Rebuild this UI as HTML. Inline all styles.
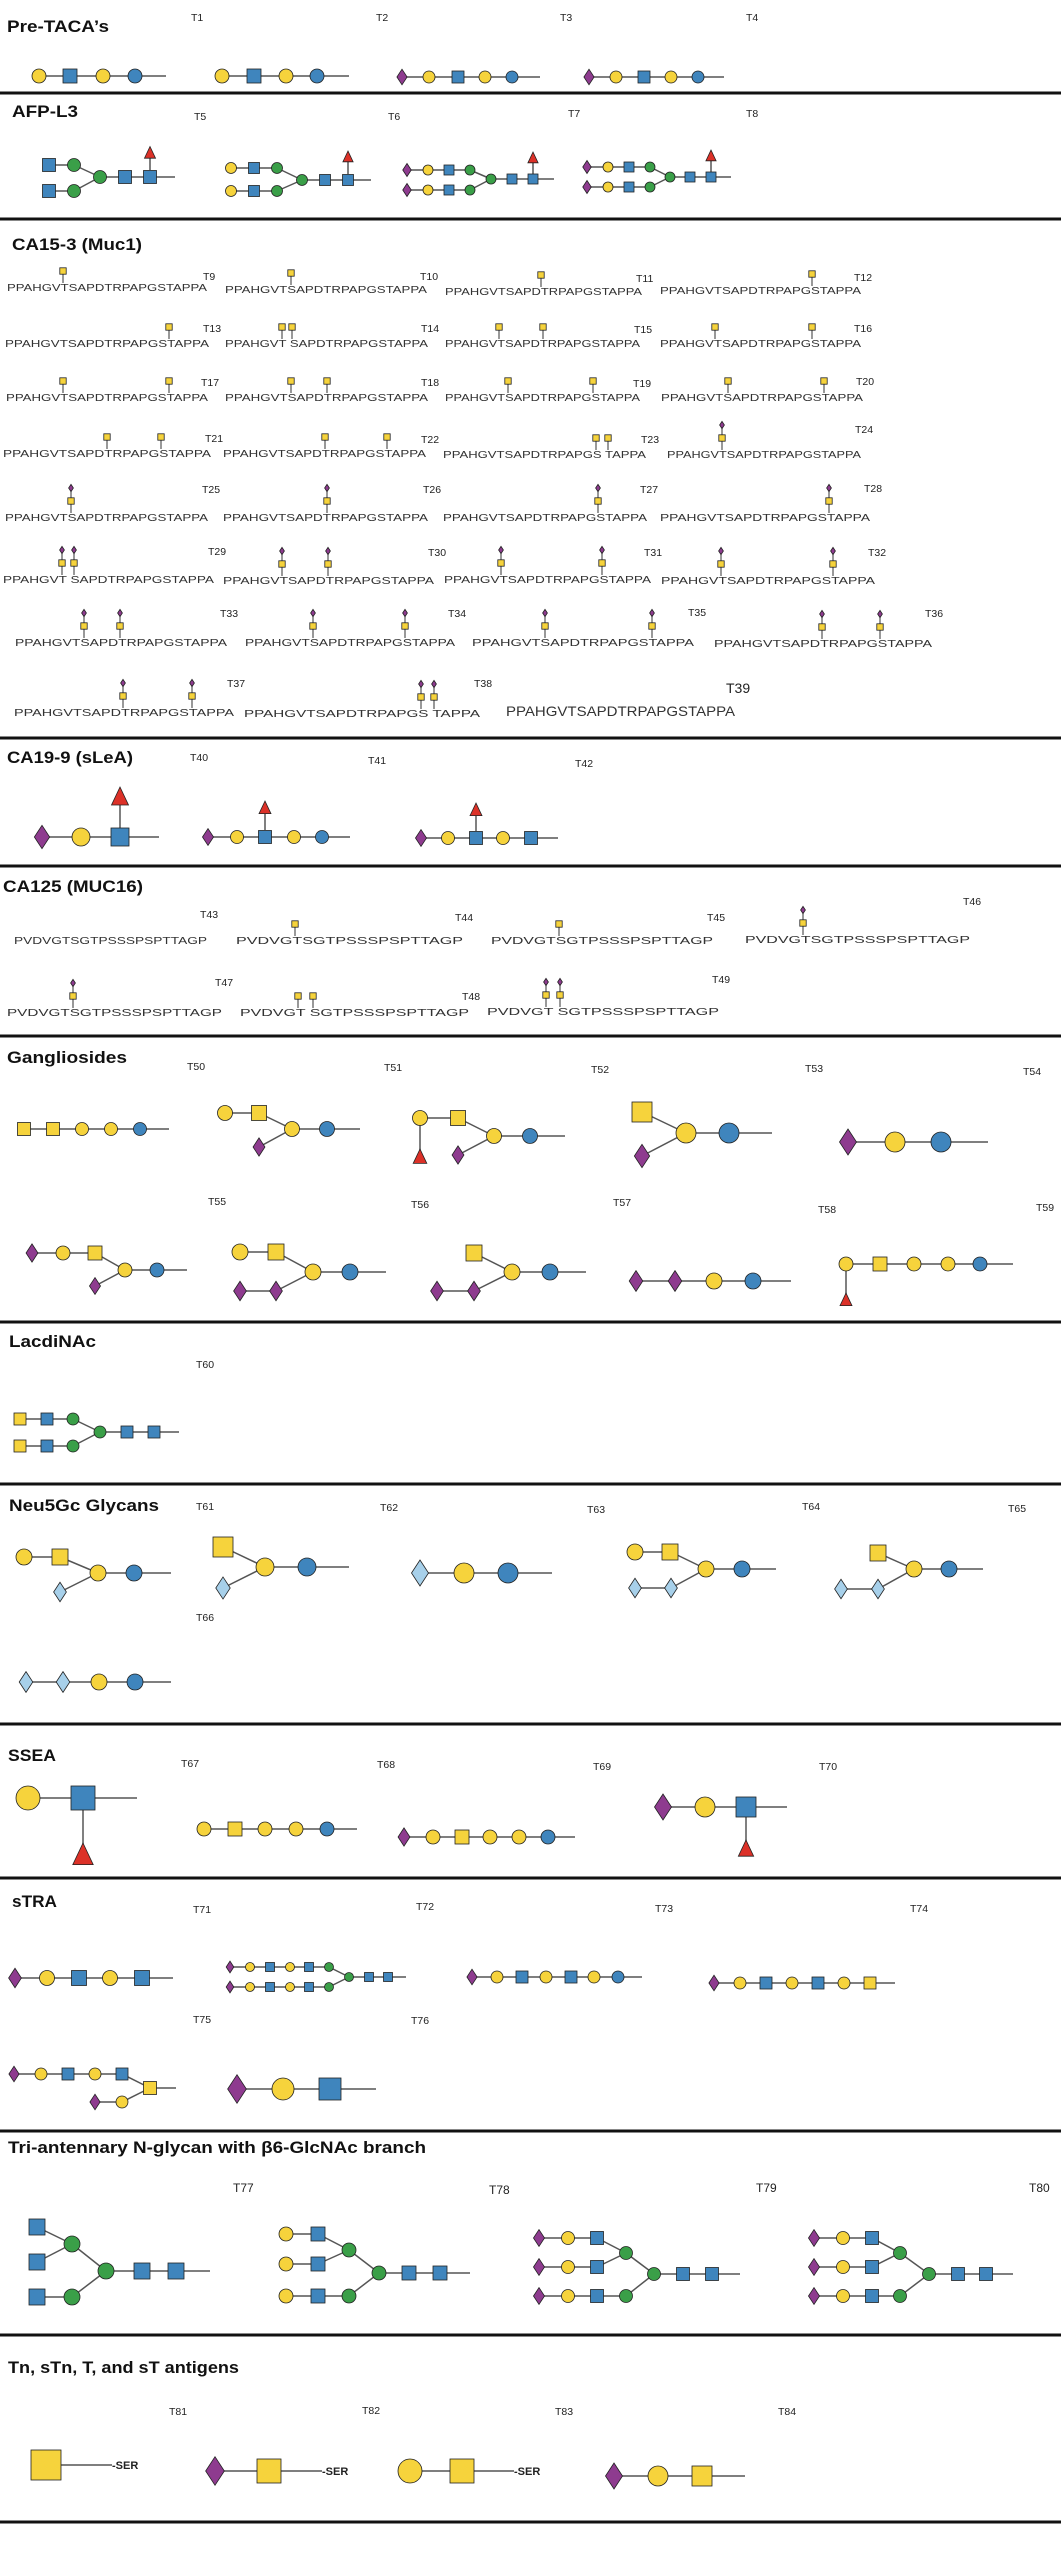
<!DOCTYPE html>
<html><head><meta charset="utf-8"><style>
html,body{margin:0;padding:0;background:#fff}
svg{display:block}
.h{font-family:"Liberation Sans",sans-serif;font-weight:bold;font-size:17px;fill:#111}
.t{font-family:"Liberation Sans",sans-serif;font-size:10.5px;fill:#222}
.p{font-family:"Liberation Sans",sans-serif;font-size:10.5px;fill:#333}
.s{font-family:"Liberation Sans",sans-serif;font-weight:bold;font-size:11px;fill:#222}
</style></head><body>
<svg id="sv" width="1061" height="2560" viewBox="0 0 1061 2560" xmlns="http://www.w3.org/2000/svg">
<rect width="1061" height="2560" fill="#fff"/>
<g stroke="#111" stroke-width="3">
<line x1="0" y1="93" x2="1061" y2="93"/><line x1="0" y1="219" x2="1061" y2="219"/>
<line x1="0" y1="738" x2="1061" y2="738"/><line x1="0" y1="866" x2="1061" y2="866"/>
<line x1="0" y1="1036" x2="1061" y2="1036"/><line x1="0" y1="1322" x2="1061" y2="1322"/>
<line x1="0" y1="1484" x2="1061" y2="1484"/><line x1="0" y1="1724" x2="1061" y2="1724"/>
<line x1="0" y1="1878" x2="1061" y2="1878"/><line x1="0" y1="2131" x2="1061" y2="2131"/>
<line x1="0" y1="2335" x2="1061" y2="2335"/><line x1="0" y1="2522" x2="1061" y2="2522"/>
</g>
<g id="lines"></g><g id="shapes"></g>
<!-- headings -->
<text class="h" x="7" y="32" textLength="102" lengthAdjust="spacingAndGlyphs">Pre-TACA’s</text>
<text class="h" x="12" y="117" textLength="66" lengthAdjust="spacingAndGlyphs">AFP-L3</text>
<text class="h" x="12" y="250" textLength="130" lengthAdjust="spacingAndGlyphs">CA15-3 (Muc1)</text>
<text class="h" x="7" y="763" textLength="126" lengthAdjust="spacingAndGlyphs">CA19-9 (sLeA)</text>
<text class="h" x="3" y="892" textLength="140" lengthAdjust="spacingAndGlyphs">CA125 (MUC16)</text>
<text class="h" x="7" y="1063" textLength="120" lengthAdjust="spacingAndGlyphs">Gangliosides</text>
<text class="h" x="9" y="1347" textLength="87" lengthAdjust="spacingAndGlyphs">LacdiNAc</text>
<text class="h" x="9" y="1511" textLength="150" lengthAdjust="spacingAndGlyphs">Neu5Gc Glycans</text>
<text class="h" x="8" y="1761" textLength="48" lengthAdjust="spacingAndGlyphs">SSEA</text>
<text class="h" x="12" y="1907" textLength="45" lengthAdjust="spacingAndGlyphs">sTRA</text>
<text class="h" x="8" y="2153" textLength="418" lengthAdjust="spacingAndGlyphs">Tri-antennary N-glycan with β6-GlcNAc branch</text>
<text class="h" x="8" y="2373" textLength="231" lengthAdjust="spacingAndGlyphs">Tn, sTn, T, and sT antigens</text>
<!-- T labels -->
<g class="t">
<text x="191" y="21">T1</text><text x="376" y="21">T2</text><text x="560" y="21">T3</text><text x="746" y="21">T4</text>
<text x="194" y="120">T5</text><text x="388" y="120">T6</text><text x="568" y="117">T7</text><text x="746" y="117">T8</text>
<text x="203" y="280">T9</text><text x="420" y="280">T10</text><text x="636" y="282">T11</text><text x="854" y="281">T12</text>
<text x="203" y="332">T13</text><text x="421" y="332">T14</text><text x="634" y="333">T15</text><text x="854" y="332">T16</text>
<text x="201" y="386">T17</text><text x="421" y="386">T18</text><text x="633" y="387">T19</text><text x="856" y="385">T20</text>
<text x="205" y="442">T21</text><text x="421" y="443">T22</text><text x="641" y="443">T23</text><text x="855" y="433">T24</text>
<text x="202" y="493">T25</text><text x="423" y="493">T26</text><text x="640" y="493">T27</text><text x="864" y="492">T28</text>
<text x="208" y="555">T29</text><text x="428" y="556">T30</text><text x="644" y="556">T31</text><text x="868" y="556">T32</text>
<text x="220" y="617">T33</text><text x="448" y="617">T34</text><text x="688" y="616">T35</text><text x="925" y="617">T36</text>
<text x="227" y="687">T37</text><text x="474" y="687">T38</text><text x="726" y="693" style="font-size:14px">T39</text>
<text x="190" y="761">T40</text><text x="368" y="764">T41</text><text x="575" y="767">T42</text>
<text x="200" y="918">T43</text><text x="455" y="921">T44</text><text x="707" y="921">T45</text><text x="963" y="905">T46</text>
<text x="215" y="986">T47</text><text x="462" y="1000">T48</text><text x="712" y="983">T49</text>
<text x="187" y="1070">T50</text><text x="384" y="1071">T51</text><text x="591" y="1073">T52</text><text x="805" y="1072">T53</text><text x="1023" y="1075">T54</text>
<text x="208" y="1205">T55</text><text x="411" y="1208">T56</text><text x="613" y="1206">T57</text><text x="818" y="1213">T58</text><text x="1036" y="1211">T59</text>
<text x="196" y="1368">T60</text>
<text x="196" y="1510">T61</text><text x="380" y="1511">T62</text><text x="587" y="1513">T63</text><text x="802" y="1510">T64</text><text x="1008" y="1512">T65</text>
<text x="196" y="1621">T66</text>
<text x="181" y="1767">T67</text><text x="377" y="1768">T68</text><text x="593" y="1770">T69</text><text x="819" y="1770">T70</text>
<text x="193" y="1913">T71</text><text x="416" y="1910">T72</text><text x="655" y="1912">T73</text><text x="910" y="1912">T74</text>
<text x="193" y="2023">T75</text><text x="411" y="2024">T76</text>
<text x="233" y="2192" style="font-size:12px">T77</text><text x="489" y="2194" style="font-size:12px">T78</text><text x="756" y="2192" style="font-size:12px">T79</text><text x="1029" y="2192" style="font-size:12px">T80</text>
<text x="169" y="2415">T81</text><text x="362" y="2414">T82</text><text x="555" y="2415">T83</text><text x="778" y="2415">T84</text>
</g>
<!-- peptides -->
<g class="p">
<text x="7" y="291" textLength="200" lengthAdjust="spacingAndGlyphs">PPAHGVTSAPDTRPAPGSTAPPA</text>
<text x="225" y="293" textLength="202" lengthAdjust="spacingAndGlyphs">PPAHGVTSAPDTRPAPGSTAPPA</text>
<text x="445" y="295" textLength="197" lengthAdjust="spacingAndGlyphs">PPAHGVTSAPDTRPAPGSTAPPA</text>
<text x="660" y="294" textLength="201" lengthAdjust="spacingAndGlyphs">PPAHGVTSAPDTRPAPGSTAPPA</text>
<text x="5" y="347" textLength="204" lengthAdjust="spacingAndGlyphs">PPAHGVTSAPDTRPAPGSTAPPA</text>
<text x="225" y="347" textLength="203" lengthAdjust="spacingAndGlyphs">PPAHGVT SAPDTRPAPGSTAPPA</text>
<text x="445" y="347" textLength="195" lengthAdjust="spacingAndGlyphs">PPAHGVTSAPDTRPAPGSTAPPA</text>
<text x="660" y="347" textLength="201" lengthAdjust="spacingAndGlyphs">PPAHGVTSAPDTRPAPGSTAPPA</text>
<text x="6" y="401" textLength="202" lengthAdjust="spacingAndGlyphs">PPAHGVTSAPDTRPAPGSTAPPA</text>
<text x="225" y="401" textLength="203" lengthAdjust="spacingAndGlyphs">PPAHGVTSAPDTRPAPGSTAPPA</text>
<text x="445" y="401" textLength="195" lengthAdjust="spacingAndGlyphs">PPAHGVTSAPDTRPAPGSTAPPA</text>
<text x="661" y="401" textLength="202" lengthAdjust="spacingAndGlyphs">PPAHGVTSAPDTRPAPGSTAPPA</text>
<text x="3" y="457" textLength="208" lengthAdjust="spacingAndGlyphs">PPAHGVTSAPDTRPAPGSTAPPA</text>
<text x="223" y="457" textLength="203" lengthAdjust="spacingAndGlyphs">PPAHGVTSAPDTRPAPGSTAPPA</text>
<text x="443" y="458" textLength="203" lengthAdjust="spacingAndGlyphs">PPAHGVTSAPDTRPAPGS TAPPA</text>
<text x="667" y="458" textLength="194" lengthAdjust="spacingAndGlyphs">PPAHGVTSAPDTRPAPGSTAPPA</text>
<text x="5" y="521" textLength="203" lengthAdjust="spacingAndGlyphs">PPAHGVTSAPDTRPAPGSTAPPA</text>
<text x="223" y="521" textLength="205" lengthAdjust="spacingAndGlyphs">PPAHGVTSAPDTRPAPGSTAPPA</text>
<text x="443" y="521" textLength="204" lengthAdjust="spacingAndGlyphs">PPAHGVTSAPDTRPAPGSTAPPA</text>
<text x="660" y="521" textLength="210" lengthAdjust="spacingAndGlyphs">PPAHGVTSAPDTRPAPGSTAPPA</text>
<text x="3" y="583" textLength="211" lengthAdjust="spacingAndGlyphs">PPAHGVT SAPDTRPAPGSTAPPA</text>
<text x="223" y="584" textLength="211" lengthAdjust="spacingAndGlyphs">PPAHGVTSAPDTRPAPGSTAPPA</text>
<text x="444" y="583" textLength="207" lengthAdjust="spacingAndGlyphs">PPAHGVTSAPDTRPAPGSTAPPA</text>
<text x="661" y="584" textLength="214" lengthAdjust="spacingAndGlyphs">PPAHGVTSAPDTRPAPGSTAPPA</text>
<text x="15" y="646" textLength="212" lengthAdjust="spacingAndGlyphs">PPAHGVTSAPDTRPAPGSTAPPA</text>
<text x="245" y="646" textLength="210" lengthAdjust="spacingAndGlyphs">PPAHGVTSAPDTRPAPGSTAPPA</text>
<text x="472" y="646" textLength="222" lengthAdjust="spacingAndGlyphs">PPAHGVTSAPDTRPAPGSTAPPA</text>
<text x="714" y="647" textLength="218" lengthAdjust="spacingAndGlyphs">PPAHGVTSAPDTRPAPGSTAPPA</text>
<text x="14" y="716" textLength="220" lengthAdjust="spacingAndGlyphs">PPAHGVTSAPDTRPAPGSTAPPA</text>
<text x="244" y="717" textLength="236" lengthAdjust="spacingAndGlyphs">PPAHGVTSAPDTRPAPGS TAPPA</text>
<text x="506" y="716" textLength="229" lengthAdjust="spacingAndGlyphs" style="font-size:14px">PPAHGVTSAPDTRPAPGSTAPPA</text>
<text x="14" y="944" textLength="193" lengthAdjust="spacingAndGlyphs">PVDVGTSGTPSSSPSPTTAGP</text>
<text x="236" y="944" textLength="227" lengthAdjust="spacingAndGlyphs">PVDVGTSGTPSSSPSPTTAGP</text>
<text x="491" y="944" textLength="222" lengthAdjust="spacingAndGlyphs">PVDVGTSGTPSSSPSPTTAGP</text>
<text x="745" y="943" textLength="225" lengthAdjust="spacingAndGlyphs">PVDVGTSGTPSSSPSPTTAGP</text>
<text x="7" y="1016" textLength="215" lengthAdjust="spacingAndGlyphs">PVDVGTSGTPSSSPSPTTAGP</text>
<text x="240" y="1016" textLength="229" lengthAdjust="spacingAndGlyphs">PVDVGT SGTPSSSPSPTTAGP</text>
<text x="487" y="1015" textLength="232" lengthAdjust="spacingAndGlyphs">PVDVGT SGTPSSSPSPTTAGP</text>
</g>
<g class="s">
<text x="112" y="2469">-SER</text><text x="322" y="2475">-SER</text><text x="514" y="2475">-SER</text>
</g>
</svg>
<script>
var C={gal:'#f6d33c',glc:'#3f85bd',gn:'#3f85bd',an:'#f6d33c',man:'#3a9f48',sa:'#8e3b8f',gc:'#a7d0ea',fuc:'#dc3128'};
var L='',S='';
function ln(a,b,c,d,w){L+='<line x1="'+a+'" y1="'+b+'" x2="'+c+'" y2="'+d+'" stroke="#555" stroke-width="'+(w||1.5)+'"/>';}
function nd(t,x,y,s){var st=' stroke="#222" stroke-width="0.8"';
 if(t=='gal'||t=='glc'||t=='man')S+='<circle cx="'+x+'" cy="'+y+'" r="'+s+'" fill="'+C[t]+'"'+st+'/>';
 else if(t=='gn'||t=='an')S+='<rect x="'+(x-s)+'" y="'+(y-s)+'" width="'+(2*s)+'" height="'+(2*s)+'" fill="'+C[t]+'"'+st+'/>';
 else if(t=='sa'||t=='gc')S+='<polygon points="'+x+','+(y-s*1.3)+' '+(x+s*0.85)+','+y+' '+x+','+(y+s*1.3)+' '+(x-s*0.85)+','+y+'" fill="'+C[t]+'"'+st+'/>';
 else S+='<polygon points="'+x+','+(y-s)+' '+(x+s*0.85)+','+(y+s*0.8)+' '+(x-s*0.85)+','+(y+s*0.8)+'" fill="'+C.fuc+'"'+st+'/>';}
function ch(y,xs,ts,s,tail){ln(xs[0],y,tail,y);xs.forEach(function(x,i){nd(ts[i],x,y,s);});}
function fu(x,y1,y2,s){ln(x,y1,x,y2);nd('fuc',x,y2,s);}
function bi(cy,uy,ly,bx,bt,cx,ct,tail,s){var m=bx[bx.length-1];ln(m,uy,cx[0],cy);ln(m,ly,cx[0],cy);ch(uy,bx,bt,s,m);ch(ly,bx,bt,s,m);ch(cy,cx,ct,s,tail);}
function tri(cy,mx,uy,ly,b1,b2,bx,bt,cx,tail,s){ln(mx,uy,cx[0],cy);ln(mx,ly,cx[0],cy);var e=bx[bx.length-1];
 ln(e,b1,mx,uy);ln(e,b2,mx,uy);ch(b1,bx,bt,s,e);ch(b2,bx,bt,s,e);nd('man',mx,uy,s);
 ch(ly,bx.concat([mx]),bt.concat(['man']),s,mx);ch(cy,cx,['man','gn','gn'],s,tail);}
function tn(x,b){ln(x,b-8,x,b-20,1.2);nd('an',x,b-20,3.2);}
function sl(x,b){ln(x,b-8,x,b-33,1.2);nd('an',x,b-20,3.2);nd('sa',x,b-33,2.8);}
// Pre-TACA
ch(76,[39,70,103,135],['gal','gn','gal','glc'],7,166);
ch(76,[222,254,286,317],['gal','gn','gal','glc'],7,349);
ch(77,[402,429,458,485,512],['sa','gal','gn','gal','glc'],6,540);
ch(77,[589,616,644,671,698],['sa','gal','gn','gal','glc'],6,724);
// AFP
bi(177,165,191,[49,74],['gn','man'],[100,125,150],['man','gn','gn'],175,6.5);fu(150,170,153,6.5);
bi(180,168,191,[231,254,277],['gal','gn','man'],[302,325,348],['man','gn','gn'],371,5.5);fu(348,174,157,6);
bi(179,170,190,[407,428,449,470],['sa','gal','gn','man'],[491,512,533],['man','gn','gn'],554,5);fu(533,174,158,6);
bi(177,167,187,[587,608,629,650],['sa','gal','gn','man'],[670,690,711],['man','gn','gn'],731,5);fu(711,172,156,6);
// Muc1 stubs
[[63,291],[291,293],[541,295],[812,294],[169,347],[282,347],[292,347],[499,347],[543,347],[715,347],[812,347],
 [63,401],[169,401],[291,401],[327,401],[508,401],[593,401],[728,401],[824,401],
 [107,457],[161,457],[325,457],[387,457],[596,458],[608,458],
 [295,944],[559,944],[298,1016],[313,1016]].forEach(function(p){tn(p[0],p[1]);});
[[722,458],[71,521],[327,521],[598,521],[829,521],[62,583],[74,583],[282,584],[328,584],[501,583],[602,583],[721,584],[833,584],
 [84,646],[120,646],[313,646],[405,646],[545,646],[652,646],[822,647],[880,647],[123,716],[192,716],[421,717],[434,717],
 [803,943],[73,1016],[546,1015],[560,1015]].forEach(function(p){sl(p[0],p[1]);});
// CA19-9
ch(837,[42,81,120],['sa','gal','gn'],9,159);fu(120,828,797,10);
ch(837,[208,237,265,294,322],['sa','gal','gn','gal','glc'],6.5,350);fu(265,830,808,7);
ch(838,[421,448,476,503,531],['sa','gal','gn','gal','gn'],6.5,558);fu(476,831,810,7);
// Gangliosides
ch(1129,[24,53,82,111,140],['an','an','gal','gal','glc'],6.5,169);
ln(292,1129,259,1113);ln(292,1129,259,1147);ch(1113,[225,259],['gal','an'],7.5,259);ch(1129,[292,327],['gal','glc'],7.5,360);nd('sa',259,1147,7);
ln(494,1136,458,1118);ln(494,1136,458,1155);ch(1118,[420,458],['gal','an'],7.5,458);ln(420,1118,420,1157);nd('fuc',420,1157,8);ch(1136,[494,530],['gal','glc'],7.5,565);nd('sa',458,1155,7);
ln(686,1133,642,1112);ln(686,1133,642,1156);nd('an',642,1112,10);nd('sa',642,1156,9);ch(1133,[686,729],['gal','glc'],10,772);
ch(1142,[848,895,941],['sa','gal','glc'],10,988);
ln(125,1270,95,1253);ln(125,1270,95,1286);ch(1253,[32,63,95],['sa','gal','an'],7,95);ch(1270,[125,157],['gal','glc'],7,187);nd('sa',95,1286,6.5);
ln(313,1272,276,1252);ln(313,1272,276,1291);ch(1252,[240,276],['gal','an'],8,276);ch(1291,[240,276],['sa','sa'],7.5,276);ch(1272,[313,350],['gal','glc'],8,386);
ln(512,1272,474,1253);ln(512,1272,474,1291);nd('an',474,1253,8);ch(1291,[437,474],['sa','sa'],7.5,474);ch(1272,[512,550],['gal','glc'],8,586);
ch(1281,[636,675,714,753],['sa','sa','gal','glc'],8,791);
ln(846,1264,846,1300);ch(1264,[846,880,914,948,980],['gal','an','gal','gal','glc'],7,1013);nd('fuc',846,1300,7);
// LacdiNAc
bi(1432,1419,1446,[20,47,73],['an','gn','man'],[100,127,154],['man','gn','gn'],179,6);
// Neu5Gc
ln(98,1573,60,1557);ln(98,1573,60,1592);ch(1557,[24,60],['gal','an'],8,60);nd('gc',60,1592,7.5);ch(1573,[98,134],['gal','glc'],8,171);
ln(265,1567,223,1547);ln(265,1567,223,1588);nd('an',223,1547,10);nd('gc',223,1588,8.5);ch(1567,[265,307],['gal','glc'],9,349);
ch(1573,[420,464,508],['gc','gal','glc'],10,552);
ln(706,1569,671,1552);ln(706,1569,671,1588);ch(1552,[635,670],['gal','an'],8,670);ch(1588,[635,671],['gc','gc'],7.5,671);ch(1569,[706,742],['gal','glc'],8,776);
ln(914,1569,878,1553);ln(914,1569,878,1589);nd('an',878,1553,8);ch(1589,[841,878],['gc','gc'],7.5,878);ch(1569,[914,949],['gal','glc'],8,983);
ch(1682,[26,63,99,135],['gc','gc','gal','glc'],8,171);
// SSEA
ln(83,1798,83,1850);ch(1798,[28,83],['gal','gn'],12,137);nd('fuc',83,1855,12);
ch(1829,[204,235,265,296,327],['gal','an','gal','gal','glc'],7,357);
ch(1837,[404,433,462,490,519,548],['sa','gal','an','gal','gal','glc'],7,575);
ln(746,1807,746,1845);ch(1807,[663,705,746],['sa','gal','gn'],10,787);nd('fuc',746,1849,9);
// sTRA
ch(1978,[15,47,79,110,142],['sa','gal','gn','gal','gn'],7.5,173);
bi(1977,1967,1987,[230,250,270,290,309,329],['sa','gal','gn','gal','gn','man'],[349,369,388],['man','gn','gn'],406,4.5);
ch(1977,[472,497,522,546,571,594,618],['sa','gal','gn','gal','gn','gal','glc'],6,642);
ch(1983,[714,740,766,792,818,844,870],['sa','gal','gn','gal','gn','gal','an'],6,895);
ln(122,2074,150,2088);ln(122,2102,150,2088);ch(2074,[14,41,68,95,122],['sa','gal','gn','gal','gn'],6,122);ch(2088,[150],['an'],6.5,176);ch(2102,[95,122],['sa','gal'],6,122);
ch(2089,[237,283,330],['sa','gal','gn'],11,376);
// Tri-antennary
tri(2271,72,2244,2297,2227,2262,[37],['gn'],[106,142,176],210,8);
tri(2273,349,2250,2296,2234,2264,[286,318],['gal','gn'],[379,409,440],470,7);
tri(2274,626,2253,2296,2238,2267,[539,568,597],['sa','gal','gn'],[654,683,712],740,6.5);
tri(2274,900,2253,2296,2238,2267,[814,843,872],['sa','gal','gn'],[929,958,986],1013,6.5);
// Tn etc
ln(61,2465,112,2465);nd('an',46,2465,15);
ln(215,2471,322,2471);nd('sa',215,2471,11);nd('an',269,2471,12);
ln(410,2471,514,2471);nd('gal',410,2471,12);nd('an',462,2471,12);
ch(2476,[614,658,702],['sa','gal','an'],10,745);
document.getElementById('lines').innerHTML=L;
document.getElementById('shapes').innerHTML=S;
</script>
</body></html>
